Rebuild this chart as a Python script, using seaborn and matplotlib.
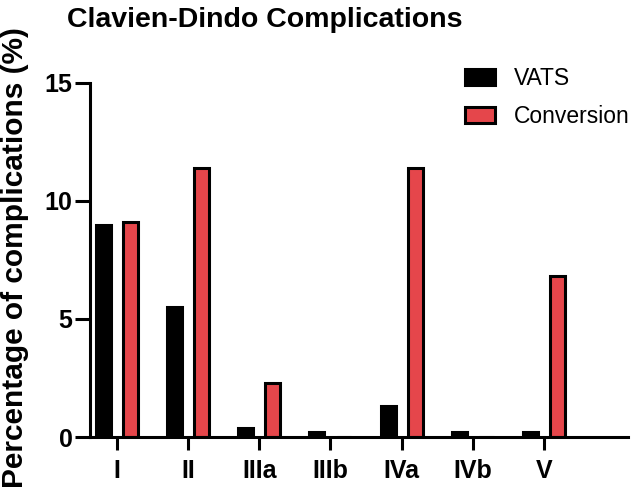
import matplotlib
matplotlib.use("Agg")
import matplotlib.pyplot as plt
import seaborn as sb
import pandas as pd

grades = ['I', 'II', 'IIIa', 'IIIb', 'IVa', 'IVb', 'V']
vats = [9.0, 5.5, 0.4, 0.2, 1.3, 0.2, 0.2]
conversion = [9.1, 11.4, 2.3, 0.0, 11.4, 0.0, 6.8]
groups = ['VATS', 'Conversion']
colors = ['black', '#e5464b']

sb.set_style('ticks', {'text.color': 'black', 'axes.edgecolor': 'black',
                       'xtick.color': 'black', 'ytick.color': 'black'})
plt.rcParams['font.family'] = ['Liberation Sans', 'DejaVu Sans']

df = pd.DataFrame({
    'grade': grades * 2,
    'pct': vats + conversion,
    'group': ['VATS'] * len(grades) + ['Conversion'] * len(grades),
})

fig = plt.figure(figsize=(6.33, 4.90), dpi=100)
ax = fig.add_axes([0.142, 0.108, 0.850, 0.723])

sb.barplot(data=df, x='grade', y='pct', hue='group', hue_order=groups,
           palette=colors, saturation=1, edgecolor='black', linewidth=2.2,
           width=0.76, gap=0.45, ax=ax)

ax.set_ylim(0, 15)
ax.set_xlim(-0.38, 7.18)
ax.set_yticks([0, 5, 10, 15])
sb.despine(ax=ax)
for s in ['left', 'bottom']:
    ax.spines[s].set_linewidth(2.2)
ax.tick_params(width=2.2, labelsize=18)
ax.tick_params(axis='x', length=9, pad=7)
ax.tick_params(axis='y', length=11, pad=1.5)
for lab in ax.get_xticklabels() + ax.get_yticklabels():
    lab.set_fontweight('bold')
ax.set_xlabel('')
ax.set_ylabel('')

fig.text(0.023, 0.474, 'Percentage of complications (%)', rotation=90,
         ha='center', va='center', fontsize=21.5, fontweight='bold')
fig.text(0.419, 0.96, 'Clavien-Dindo Complications', ha='center',
         va='center', fontsize=20.5, fontweight='bold')

handles, labels = ax.get_legend_handles_labels()
ax.get_legend().remove()
fig.legend(handles, labels, loc='upper left', bbox_to_anchor=(0.735, 0.863),
           frameon=False, fontsize=16.5, handlelength=1.31, handleheight=0.65,
           handletextpad=0.8, labelspacing=0.65, borderpad=0, borderaxespad=0)

plt.savefig('out.png', dpi=100)
